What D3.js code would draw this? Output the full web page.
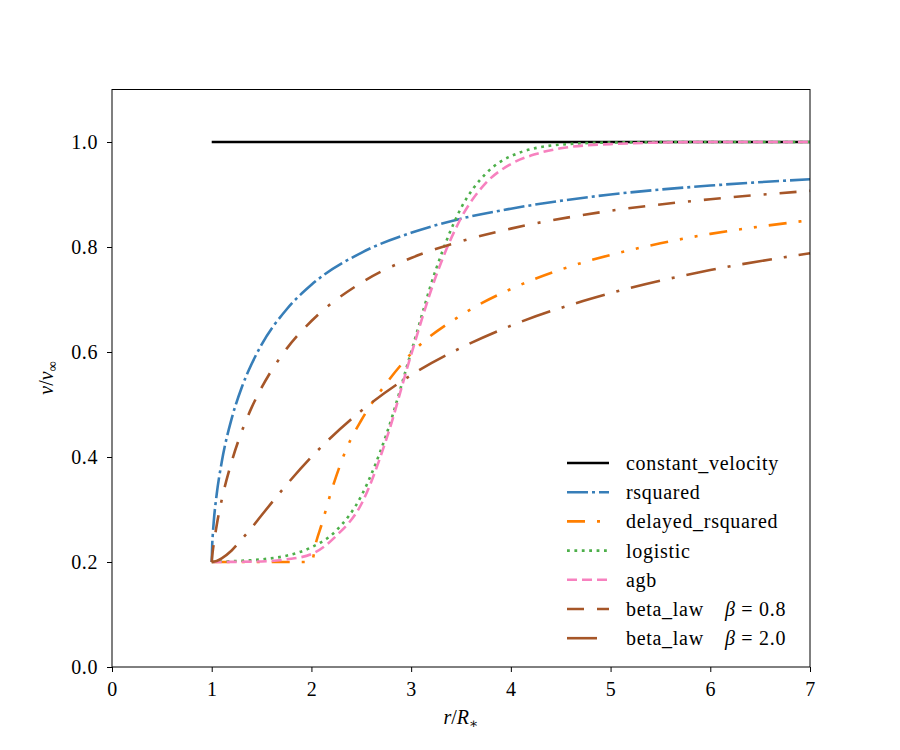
<!DOCTYPE html>
<html>
<head>
<meta charset="utf-8">
<script src="https://cdn.jsdelivr.net/npm/d3@7"></script>
<style>
  body { margin: 0; background: #fff; }
</style>
</head>
<body>
<div id="here"></div>
<script>
// DATA (r/R*, v/v_inf)
const constantVelocity = [[1, 1.0], [7, 1.0]];

const rsquared = [
  [1, 0.2], [1.005, 0.233], [1.01, 0.25], [1.02, 0.276], [1.05, 0.329], [1.1, 0.39],
  [1.2, 0.473], [1.3, 0.532], [1.4, 0.577], [1.5, 0.614], [1.75, 0.681], [2, 0.728],
  [2.5, 0.789], [3, 0.827], [3.5, 0.854], [4, 0.873], [5, 0.9], [6, 0.917], [7, 0.929]
];

const delayedRsquared = [
  [1, 0.2], [1.5, 0.2], [2, 0.2], [2.05, 0.24], [2.1, 0.27], [2.2, 0.335], [2.35, 0.415],
  [2.5, 0.47], [2.75, 0.54], [3, 0.597], [3.5, 0.67], [4, 0.72], [4.5, 0.757],
  [5, 0.785], [5.5, 0.807], [6, 0.825], [6.5, 0.839], [7, 0.851]
];

const logistic = [
  [1, 0.2], [1.25, 0.202], [1.5, 0.205], [1.75, 0.212], [2, 0.228], [2.25, 0.26],
  [2.5, 0.326], [2.75, 0.442], [3, 0.6], [3.25, 0.758], [3.5, 0.874], [3.75, 0.94],
  [4, 0.973], [4.5, 0.995], [5, 0.999], [6, 1.0], [7, 1.0]
];

const agb = [
  [1, 0.2], [1.5, 0.201], [1.75, 0.205], [2, 0.215], [2.25, 0.25], [2.5, 0.31],
  [2.75, 0.433], [3, 0.595], [3.25, 0.745], [3.5, 0.855], [3.75, 0.922], [4, 0.958],
  [4.25, 0.977], [4.5, 0.988], [5, 0.996], [6, 1.0], [7, 1.0]
];

const betaLaw08 = [
  [1, 0.2], [1.005, 0.2115], [1.01, 0.22], [1.02, 0.234], [1.05, 0.27], [1.1, 0.318],
  [1.2, 0.391], [1.3, 0.448], [1.4, 0.494], [1.5, 0.532], [1.75, 0.606], [2, 0.659],
  [2.5, 0.732], [3, 0.779], [3.5, 0.811], [4, 0.835], [5, 0.869], [6, 0.891], [7, 0.907]
];

const betaLaw20 = [
  [1, 0.2], [1.05, 0.202], [1.1, 0.207], [1.2, 0.222], [1.3, 0.243], [1.4, 0.265],
  [1.5, 0.289], [1.75, 0.347], [2, 0.4], [2.5, 0.488], [3, 0.556], [3.5, 0.608],
  [4, 0.65], [5, 0.712], [6, 0.756], [7, 0.788]
];

const xTicks = [0, 1, 2, 3, 4, 5, 6, 7];
const yTicks = [0.0, 0.2, 0.4, 0.6, 0.8, 1.0];

// series styling (order = draw order = legend order)
const series = [
  { name: "constant_velocity", data: constantVelocity, color: "#000000", dash: null },
  { name: "rsquared", data: rsquared, color: "#377eb8", dash: "21,4,3,4" },
  { name: "delayed_rsquared", data: delayedRsquared, color: "#ff7f00", dash: "18,12,3,12,3,12" },
  { name: "logistic", data: logistic, color: "#4daf4a", dash: "2.8,4.6" },
  { name: "agb", data: agb, color: "#f781bf", dash: "10,5" },
  { name: "beta_law", beta: "0.8", data: betaLaw08, color: "#a65628", dash: "17,13,17,13,3,13" },
  { name: "beta_law", beta: "2.0", data: betaLaw20, color: "#a65628", dash: "30,12,3,12" }
];

const serif = "'Liberation Serif', 'DejaVu Serif', serif";

// Variable Declarations
const width = 900;
const height = 750;
const margin = { top: 89.5, right: 90, bottom: 83, left: 112 };

// Create SVG canvas
const svg = d3.select("#here")
  .append("svg")
  .attr("width", width)
  .attr("height", height)
  .style("font-family", serif);

const x = d3.scaleLinear()
  .domain([0, 7])
  .range([margin.left, width - margin.right]);

const y = d3.scaleLinear()
  .domain([0, 1.1])
  .range([height - margin.bottom, margin.top]);

// lines
const line = d3.line()
  .x(d => x(d[0]))
  .y(d => y(d[1]))
  .curve(d3.curveMonotoneX);

svg.append("g")
  .selectAll("path")
  .data(series)
  .join("path")
  .attr("d", d => line(d.data))
  .attr("fill", "none")
  .attr("stroke", d => d.color)
  .attr("stroke-width", 2.6)
  .attr("stroke-dasharray", d => d.dash)
  .attr("stroke-linecap", "butt");

// axes
const xAxis = svg.append("g")
  .attr("transform", `translate(0, ${height - margin.bottom})`)
  .call(d3.axisBottom(x).tickValues(xTicks).tickFormat(d3.format("d"))
    .tickSize(5).tickSizeOuter(0).tickPadding(10));

const yAxis = svg.append("g")
  .attr("transform", `translate(${margin.left}, 0)`)
  .call(d3.axisLeft(y).tickValues(yTicks).tickFormat(d3.format(".1f"))
    .tickSize(5).tickSizeOuter(0).tickPadding(9));

svg.selectAll(".tick text")
  .attr("fill", "#000")
  .style("font-size", "20px")
  .style("letter-spacing", "0.6px")
  .style("font-family", serif);
svg.selectAll(".tick line").attr("stroke", "#000").attr("stroke-width", 1);
svg.selectAll(".domain").remove();

// frame
svg.append("rect")
  .attr("x", x(0))
  .attr("y", y(1.1))
  .attr("width", x(7) - x(0))
  .attr("height", y(0) - y(1.1))
  .attr("fill", "none")
  .attr("stroke", "#000")
  .attr("stroke-width", 1);

// axis labels
const xLabel = svg.append("text")
  .attr("x", (x(0) + x(7)) / 2)
  .attr("y", 724)
  .attr("text-anchor", "middle")
  .style("font-family", serif)
  .style("font-size", "20px");
xLabel.append("tspan").style("font-style", "italic").text("r");
xLabel.append("tspan").text("/");
xLabel.append("tspan").style("font-style", "italic").text("R");
xLabel.append("tspan").attr("dy", 4).style("font-size", "14px").text("∗");

const yLabel = svg.append("text")
  .attr("transform", "translate(53, 378) rotate(-90)")
  .attr("text-anchor", "middle")
  .style("font-family", serif)
  .style("font-size", "20px");
yLabel.append("tspan").style("font-style", "italic").text("v");
yLabel.append("tspan").text("/");
yLabel.append("tspan").style("font-style", "italic").text("v");
yLabel.append("tspan").attr("dy", 4).style("font-size", "14px").text("∞");

// legend
const legend = svg.append("g");
const legendY0 = 463;
const legendStep = 29.2;

series.forEach(function(s, i){
  const ly = legendY0 + i * legendStep;
  legend.append("line")
    .attr("x1", 567).attr("x2", 609)
    .attr("y1", ly).attr("y2", ly)
    .attr("stroke", s.color)
    .attr("stroke-width", 2.6)
    .attr("stroke-dasharray", s.dash);
  const t = legend.append("text")
    .attr("x", 626)
    .attr("y", ly + 7)
    .style("font-family", serif)
    .style("font-size", "20px")
    .style("letter-spacing", "0.7px");
  t.append("tspan").text(s.name);
  if (s.beta) {
    t.append("tspan").attr("x", 725).style("font-style", "italic").text("β");
    t.append("tspan").text(" = " + s.beta);
  }
});
</script>
</body>
</html>
